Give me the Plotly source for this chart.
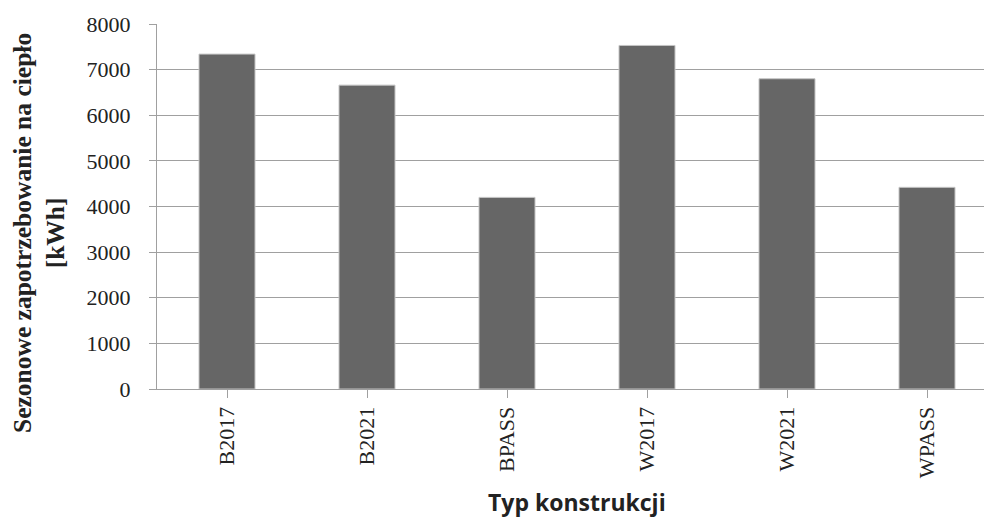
import plotly.graph_objects as go

# Construction types and their seasonal heating demand [kWh]
categories = ["B2017", "B2021", "BPASS", "W2017", "W2021", "WPASS"]
demand_kwh = [7340, 6660, 4200, 7530, 6800, 4420]
y_ticks = [0, 1000, 2000, 3000, 4000, 5000, 6000, 7000, 8000]

W, H = 984, 518
m_left, m_right, m_top, m_bottom = 157, 0, 24, 129
plot_w = W - m_left - m_right
plot_h = H - m_top - m_bottom
cat_px = 140  # pixel width of one category slot
x_max = -0.5 + plot_w / cat_px

grid_col = "#a0a0a0"
serif = "Liberation Serif"

fig = go.Figure(
    go.Bar(
        x=list(range(len(categories))),
        y=demand_kwh,
        width=0.4,
        marker=dict(color="#666666", line=dict(color="#c4c4c4", width=1)),
    )
)

fig.update_layout(
    width=W,
    height=H,
    margin=dict(l=m_left, r=m_right, t=m_top, b=m_bottom),
    paper_bgcolor="white",
    plot_bgcolor="white",
    showlegend=False,
    font=dict(family=serif, color="#222222"),
)

fig.update_xaxes(
    range=[-0.5, x_max],
    tickmode="array",
    tickvals=list(range(len(categories))),
    ticktext=categories,
    tickangle=-90,
    tickson="boundaries",
    ticks="outside",
    ticklen=8,
    tickcolor=grid_col,
    showline=True,
    linecolor=grid_col,
    linewidth=1,
    showgrid=False,
    tickfont=dict(family=serif, size=22, color="#222222"),
)

fig.update_yaxes(
    range=[0, 8000],
    tickmode="array",
    tickvals=y_ticks,
    ticktext=[str(v) for v in y_ticks],
    ticks="outside",
    ticklen=7,
    tickcolor=grid_col,
    ticklabelstandoff=14,
    showline=True,
    linecolor=grid_col,
    linewidth=1,
    showgrid=True,
    gridcolor=grid_col,
    gridwidth=1,
    zeroline=False,
    tickfont=dict(family=serif, size=22, color="#222222"),
)

# Axis titles
fig.add_annotation(
    text="<b>Typ konstrukcji</b>",
    xref="paper", yref="paper",
    x=(577 - m_left) / plot_w, y=(389 - 502) / plot_h,
    xanchor="center", yanchor="middle",
    showarrow=False,
    font=dict(family="Open Sans", size=23, color="#222222"),
)
fig.add_annotation(
    text="<b>Sezonowe zapotrzebowanie na ciepło<br>[kWh]</b>",
    xref="paper", yref="paper",
    x=(39 - m_left) / plot_w, y=(389 - 233) / plot_h,
    xanchor="center", yanchor="middle",
    textangle=-90,
    showarrow=False,
    font=dict(family=serif, size=25.5, color="#222222"),
)

fig.write_html("out.html")
